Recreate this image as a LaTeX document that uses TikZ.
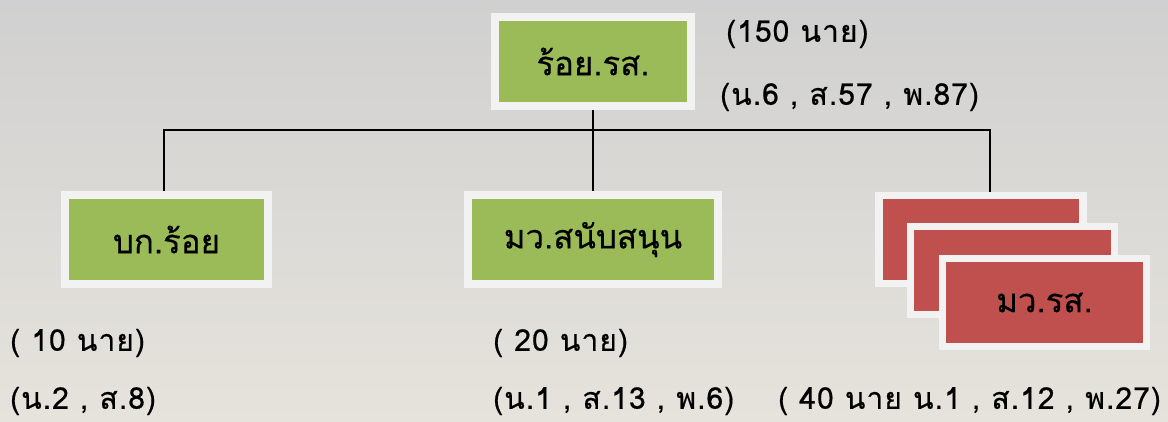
\documentclass[tikz,border=0pt]{standalone}
\usepackage{fontspec}
\setmainfont[Script=Thai,FakeBold=0.4]{Loma}
\newfontfamily\infofont[Script=Thai,LetterSpace=3.5,FakeBold=0.5]{Loma}
\usetikzlibrary{shadows}
\definecolor{bggray}{HTML}{D0D0D0}
\definecolor{bglight}{HTML}{E6E3DC}
\definecolor{boxgreen}{HTML}{9BBB59}
\definecolor{boxred}{HTML}{C0504D}
\definecolor{frame}{HTML}{F2F2F2}
\begin{document}
\begin{tikzpicture}[x=1pt,y=-1pt,
  unitbox/.style={draw=frame, line width=7.5pt, minimum width=#1, minimum height=89pt, inner sep=0pt,
     font=\fontsize{33}{38}\selectfont, drop shadow={shadow xshift=3pt, shadow yshift=-3pt, fill=black, opacity=0.35}},
  greenbox/.style={unitbox=#1, fill=boxgreen},
  redbox/.style={unitbox=#1, fill=boxred, minimum height=88pt},
  info/.style={anchor=west, inner sep=0pt, font=\infofont\fontsize{30}{34}\selectfont},
  conn/.style={draw=black, line width=1.4pt}]
\useasboundingbox (0,0) rectangle (1168,421);
\shade[top color=bggray, bottom color=bglight] (0,0) rectangle (1168,421);
% boxes
\node[greenbox=196pt] (top) at (593,61.5) {ร้อย.รส.};
\node[greenbox=203pt] (left) at (166.5,239.5) {บก.ร้อย};
\node[greenbox=250pt] (mid) at (593,239.5) {มว.สนับสนุน};
\node[redbox=204pt] (r1) at (981,239.5) {};
\node[redbox=204pt] (r2) at (1012.5,270.5) {};
\node[redbox=204pt] (r3) at (1044.5,302.5) {มว.รส.};
% connectors
\coordinate (jl) at (164,130);
\coordinate (jr) at (990,130);
\draw[conn] (top.south) -- (mid.north);
\draw[conn] (left.north -| jl) -- (jl) -- (jr) -- (jr |- r1.north);
% labels
\node[info] (t1) at (726,34) {(150 นาย)};
\node[info] (t2) at (720,97) {(น.6 , ส.57 , พ.87)};
\node[info] (l1) at (10,343) {( 10 นาย)};
\node[info] (l2) at (10,401) {(น.2 , ส.8)};
\node[info] (m1) at (493,343) {( 20 นาย)};
\node[info] (m2) at (493,401) {(น.1 , ส.13 , พ.6)};
\node[info] (rr) at (778,401) {( 40 นาย น.1 , ส.12 , พ.27)};
\end{tikzpicture}
\end{document}
